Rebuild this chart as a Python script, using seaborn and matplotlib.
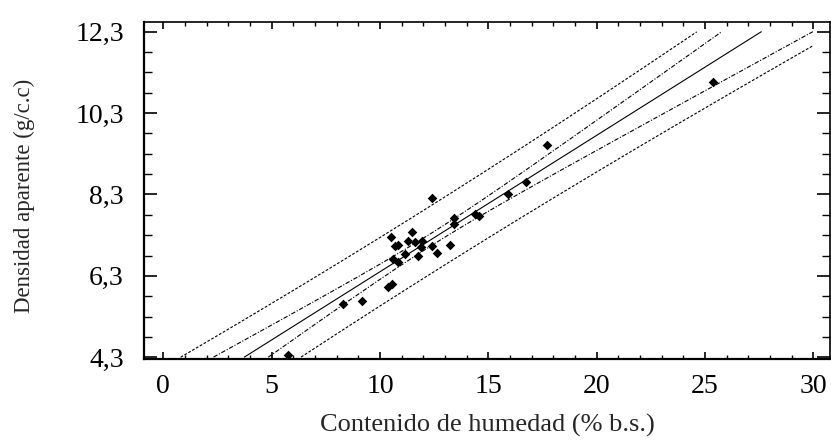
import numpy as np
import pandas as pd
import matplotlib
matplotlib.use("Agg")
import matplotlib.pyplot as plt
import seaborn as sns
from matplotlib.ticker import MultipleLocator, FixedLocator

# ==============================================================
# DATA
# ==============================================================
humedad = [5.74, 8.31, 9.16, 10.38, 10.55, 10.61, 10.82, 10.69, 10.85, 10.49,
           11.14, 11.29, 11.46, 11.63, 11.77, 11.88, 11.95, 12.41, 12.41, 12.62,
           13.23, 13.42, 13.42, 14.40, 14.55, 15.92, 16.74, 17.72, 25.38]
densidad = [4.35, 5.60, 5.68, 6.03, 6.10, 6.71, 6.63, 7.03, 7.05, 7.26,
            6.84, 7.16, 7.37, 7.12, 6.79, 7.00, 7.16, 7.03, 8.21, 6.86,
            7.05, 7.57, 7.72, 7.83, 7.78, 8.30, 8.60, 9.51, 11.06]

x_ticks = [0, 5, 10, 15, 20, 25, 30]
x_tick_labels = ["0", "5", "10", "15", "20", "25", "30"]
y_ticks = [4.3, 6.3, 8.3, 10.3, 12.3]
y_tick_labels = ["4,3", "6,3", "8,3", "10,3", "12,3"]

T_95 = 2.052  # t(0.975, df=27)

df = pd.DataFrame({"humedad": humedad, "densidad": densidad})

# ==============================================================
# FIT: line, confidence and prediction limits
# ==============================================================
x = df["humedad"].to_numpy()
y = df["densidad"].to_numpy()
n = len(x)
b1, b0 = np.polyfit(x, y, 1)
resid = y - (b0 + b1 * x)
s = np.sqrt(np.sum(resid ** 2) / (n - 2))
sxx = np.sum((x - x.mean()) ** 2)

xg = np.linspace(0, 30, 1501)
yfit = b0 + b1 * xg
h = 1.0 / n + (xg - x.mean()) ** 2 / sxx
ci = T_95 * s * np.sqrt(h)
pi = T_95 * s * np.sqrt(1 + h)

def clip(v):
    # keep curves inside the 4,3 - 12,3 band like the original software
    v = v.copy()
    v[(v < y_ticks[0]) | (v > y_ticks[-1])] = np.nan
    return v

# ==============================================================
# PLOT
# ==============================================================
sns.set_theme(style="ticks")
plt.rcParams["font.family"] = ["Liberation Serif", "DejaVu Serif"]

fig = plt.figure(figsize=(8.31, 4.41), dpi=100)
ax = fig.add_axes([0.1733, 0.186, 0.8255, 0.765])

lw = 0.8
ax.plot(xg, clip(yfit), color="black", lw=lw, ls="-")
ax.plot(xg, clip(yfit + ci), color="black", lw=lw, ls=(0, (4, 1.5, 1, 1.5)))
ax.plot(xg, clip(yfit - ci), color="black", lw=lw, ls=(0, (4, 1.5, 1, 1.5)))
ax.plot(xg, clip(yfit + pi), color="black", lw=lw, ls=(0, (2.5, 1.5)))
ax.plot(xg, clip(yfit - pi), color="black", lw=lw, ls=(0, (2.5, 1.5)))

sns.scatterplot(data=df, x="humedad", y="densidad", marker="D", s=24,
                color="black", edgecolor="black", linewidth=0, ax=ax, zorder=5)

ax.set_xlim(-0.89, 30.77)
ax.set_ylim(4.258, 12.546)
ax.set_xticks(x_ticks)
ax.set_xticklabels(x_tick_labels)
ax.set_yticks(y_ticks)
ax.set_yticklabels(y_tick_labels)
ax.xaxis.set_minor_locator(MultipleLocator(1))
ax.yaxis.set_minor_locator(FixedLocator(np.arange(4.3, 12.31, 0.5)))

ax.tick_params(which="both", direction="in", top=True, right=True,
               labelsize=20, colors="black")
ax.tick_params(axis="x", which="major", length=5, width=1.2, pad=11)
ax.tick_params(axis="x", which="minor", length=3, width=1.0)
ax.tick_params(axis="y", which="major", length=9.5, width=1.2, pad=14.5)
ax.tick_params(axis="y", which="minor", length=5.5, width=1.0)

for side in ["left", "bottom"]:
    ax.spines[side].set_linewidth(1.6)
for side in ["top", "right"]:
    ax.spines[side].set_linewidth(1.2)
for sp in ax.spines.values():
    sp.set_color("black")

ax.set_xlabel("Contenido de humedad (% b.s.)", fontsize=19, labelpad=10.5)
ax.set_ylabel("Densidad aparente (g/c.c)", fontsize=16.5)
ax.yaxis.set_label_coords(-0.159, 0.482)

fig.savefig("out.png", dpi=100)
